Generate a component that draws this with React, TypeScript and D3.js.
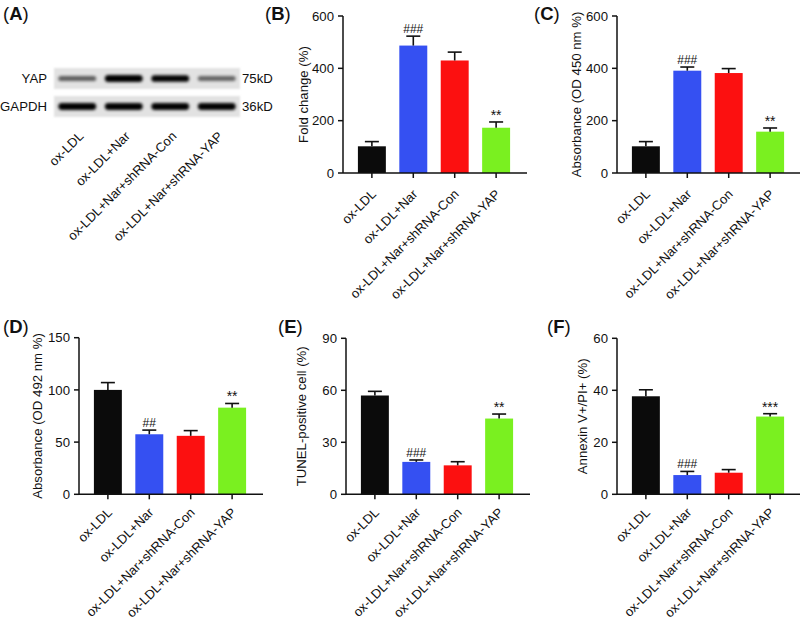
import React from "react";
import * as d3 from "d3";

const categories = ["ox-LDL", "ox-LDL+Nar", "ox-LDL+Nar+shRNA-Con", "ox-LDL+Nar+shRNA-YAP"];
const barColors = ["#0b0b0b", "#3550f2", "#fc1010", "#7af020"];

const foldChange = [102, 487, 430, 173];
const foldChangeErr = [18, 36, 32, 22];
const foldTicks = [0, 200, 400, 600];
const foldMarks = ["", "###", "", "**"];

const od450 = [102, 391, 382, 158];
const od450Err = [18, 14, 17, 14];
const od450Ticks = [0, 200, 400, 600];
const od450Marks = ["", "###", "", "**"];

const od492 = [100, 57.5, 56, 83];
const od492Err = [7, 4, 5, 4];
const od492Ticks = [0, 50, 100, 150];
const od492Marks = ["", "##", "", "**"];

const tunel = [57, 18.7, 16.7, 43.7];
const tunelErr = [2.4, 1.1, 2.1, 2.6];
const tunelTicks = [0, 30, 60, 90];
const tunelMarks = ["", "###", "", "**"];

const annexin = [37.7, 7.4, 8.3, 29.9];
const annexinErr = [2.5, 1.4, 1.2, 1.1];
const annexinTicks = [0, 20, 40, 60];
const annexinMarks = ["", "###", "", "***"];

const blotProteins = ["YAP", "GAPDH"];
const blotSizes = ["75kD", "36kD"];
const yapIntensity = [0.42, 1.0, 0.92, 0.38];
const gapdhIntensity = [0.95, 0.93, 0.93, 0.93];

const FONT = "'Liberation Sans', Arial, Helvetica, sans-serif";

function PanelLetter({ letter, x, y }: { letter: string; x: number; y: number }) {
  return (
    <text x={x} y={y} fontSize={18.5} fontFamily={FONT} fill="#111">
      <tspan>(</tspan>
      <tspan fontWeight="bold">{letter}</tspan>
      <tspan>)</tspan>
    </text>
  );
}

type PanelProps = {
  axisX: number;
  yZero: number;
  yTop: number;
  ticks: number[];
  values: number[];
  errors: number[];
  marks: string[];
  title: string;
  titleX: number;
  labelOffset: number;
};

function BarPanel(p: PanelProps) {
  const max = p.ticks[p.ticks.length - 1];
  const y = d3.scaleLinear().domain([0, max]).range([p.yZero, p.yTop]);
  const x = d3
    .scaleBand<string>()
    .domain(categories)
    .range([p.axisX, p.axisX + 182])
    .paddingInner(0.325)
    .paddingOuter(0.36);
  const bw = x.bandwidth();
  return (
    <g fontFamily={FONT}>
      {categories.map((c, i) => {
        const x0 = x(c)!;
        const cx = x0 + bw / 2;
        const top = y(p.values[i]);
        const et = y(p.values[i] + p.errors[i]);
        const mk = p.marks[i];
        return (
          <g key={c}>
            <rect x={x0} y={top} width={bw} height={p.yZero - top} fill={barColors[i]} />
            <line x1={cx} x2={cx} y1={top} y2={et} stroke="#111" strokeWidth={1.6} />
            <line x1={cx - 7} x2={cx + 7} y1={et} y2={et} stroke="#111" strokeWidth={1.6} />
            {mk && (
              <text
                x={cx}
                y={mk.startsWith("*") ? et - 2 : et - 3}
                fontSize={mk.startsWith("*") ? 14 : 12}
                textAnchor="middle"
                fill="#111"
              >
                {mk}
              </text>
            )}
            <line x1={cx} x2={cx} y1={p.yZero} y2={p.yZero + 5} stroke="#111" strokeWidth={1.5} />
            <text
              transform={`translate(${cx + 5},${p.yZero + p.labelOffset}) rotate(-45)`}
              textAnchor="end"
              fontSize={13}
              fill="#111"
            >
              {c}
            </text>
          </g>
        );
      })}
      <line x1={p.axisX} x2={p.axisX} y1={p.yTop} y2={p.yZero} stroke="#111" strokeWidth={1.5} />
      <line x1={p.axisX} x2={p.axisX + 184} y1={p.yZero} y2={p.yZero} stroke="#111" strokeWidth={1.5} />
      {p.ticks.map((t) => (
        <g key={t}>
          <line x1={p.axisX - 5} x2={p.axisX} y1={y(t)} y2={y(t)} stroke="#111" strokeWidth={1.5} />
          <text x={p.axisX - 9} y={y(t)} dy="0.36em" textAnchor="end" fontSize={13.2} fill="#111">
            {t}
          </text>
        </g>
      ))}
      <text
        transform={`translate(${p.titleX},${(p.yZero + p.yTop) / 2}) rotate(-90)`}
        textAnchor="middle"
        fontSize={13.2}
        fill="#111"
      >
        {p.title}
      </text>
    </g>
  );
}

function Blot() {
  const boxX = 54;
  const boxW = 186;
  const rows = [
    { y: 68, h: 21, intens: yapIntensity, bh: 7 },
    { y: 96, h: 21, intens: gapdhIntensity, bh: 7 },
  ];
  const lane = d3.scaleBand<string>().domain(categories).range([boxX, boxX + boxW]).paddingInner(0.1).paddingOuter(0.05);
  return (
    <g fontFamily={FONT}>
      <defs>
        <filter id="blur" x="-20%" y="-100%" width="140%" height="300%">
          <feGaussianBlur stdDeviation="1.5" />
        </filter>
        <filter id="bgblur">
          <feGaussianBlur stdDeviation="0.8" />
        </filter>
      </defs>
      {rows.map((r, ri) => (
        <g key={ri}>
          <rect x={boxX} y={r.y} width={boxW} height={r.h} fill="#e2e2e2" filter="url(#bgblur)" />
          {categories.map((c, i) => {
            const lx = lane(c)!;
            const w = lane.bandwidth();
            const inten = r.intens[i];
            const bh = r.bh * (0.55 + 0.45 * inten);
            return (
              <rect
                key={c}
                x={lx + 2}
                y={r.y + r.h / 2 - bh / 2}
                width={w - 4}
                height={bh}
                rx={bh / 2}
                fill="#050505"
                opacity={Math.min(1, 0.25 + 0.8 * inten)}
                filter="url(#blur)"
              />
            );
          })}
          <text x={47} y={r.y + r.h / 2} dy="0.36em" textAnchor="end" fontSize={13.2} fill="#111">
            {blotProteins[ri]}
          </text>
          <text x={242} y={r.y + r.h / 2} dy="0.36em" fontSize={13.2} fill="#111">
            {blotSizes[ri]}
          </text>
        </g>
      ))}
      {categories.map((c) => {
        const cx = lane(c)! + lane.bandwidth() / 2;
        return (
          <text
            key={c}
            transform={`translate(${cx + 7},${137}) rotate(-45)`}
            textAnchor="end"
            fontSize={13}
            fill="#111"
          >
            {c}
          </text>
        );
      })}
    </g>
  );
}

export default function App() {
  return (
    <svg
      width={800}
      height={619}
      viewBox="0 0 800 619"
      style={{ position: "absolute", left: 0, top: 0, background: "#fff" }}
    >
      <rect width={800} height={619} fill="#fff" />
      <PanelLetter letter="A" x={3} y={20} />
      <PanelLetter letter="B" x={265} y={20} />
      <PanelLetter letter="C" x={534} y={20} />
      <PanelLetter letter="D" x={3} y={333} />
      <PanelLetter letter="E" x={278} y={333} />
      <PanelLetter letter="F" x={547} y={333} />
      <Blot />
      <BarPanel axisX={343} yZero={173} yTop={16} ticks={foldTicks} values={foldChange} errors={foldChangeErr} marks={foldMarks} title="Fold change (%)" titleX={308} labelOffset={22} />
      <BarPanel axisX={617} yZero={173} yTop={16} ticks={od450Ticks} values={od450} errors={od450Err} marks={od450Marks} title="Absorbance (OD 450 nm %)" titleX={581} labelOffset={22} />
      <BarPanel axisX={79} yZero={494.3} yTop={337.7} ticks={od492Ticks} values={od492} errors={od492Err} marks={od492Marks} title="Absorbance (OD 492 nm %)" titleX={42} labelOffset={19} />
      <BarPanel axisX={346} yZero={494.3} yTop={338.3} ticks={tunelTicks} values={tunel} errors={tunelErr} marks={tunelMarks} title="TUNEL-positive cell (%)" titleX={306} labelOffset={19} />
      <BarPanel axisX={617} yZero={494.3} yTop={338.3} ticks={annexinTicks} values={annexin} errors={annexinErr} marks={annexinMarks} title="Annexin V+/PI+ (%)" titleX={587} labelOffset={19} />
    </svg>
  );
}
